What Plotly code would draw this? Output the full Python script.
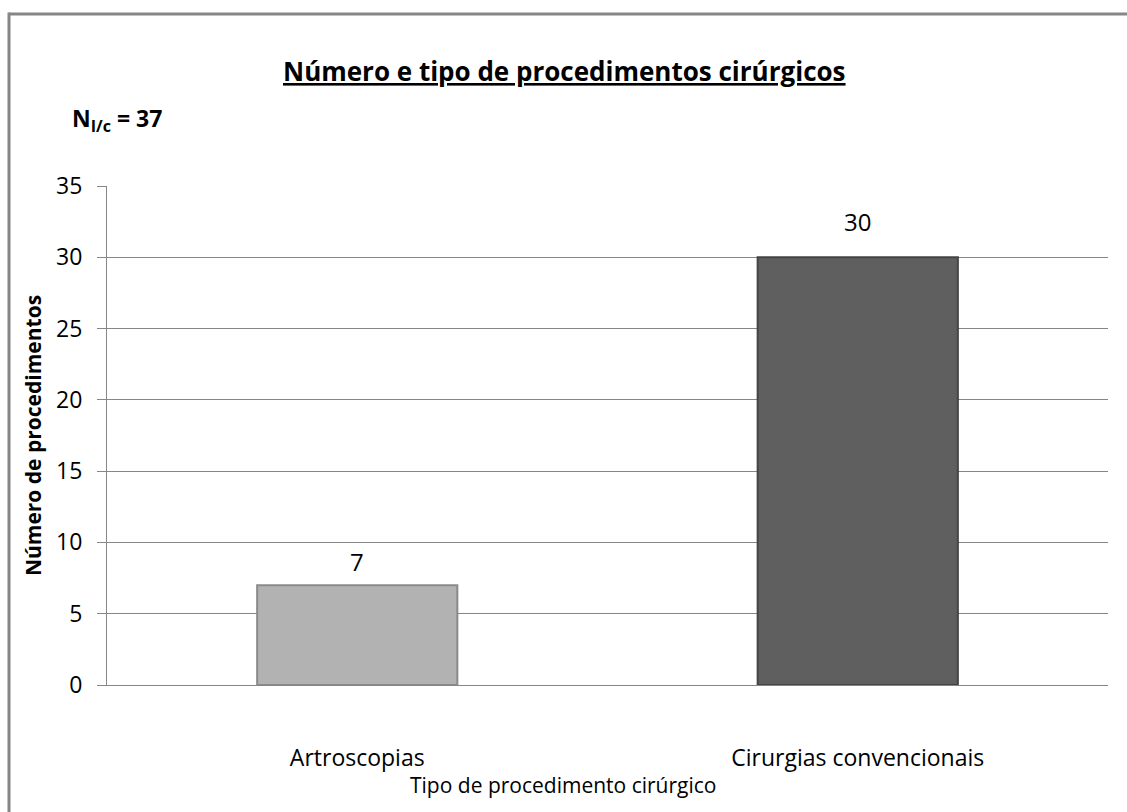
import plotly.graph_objects as go

categories = ["Artroscopias", "Cirurgias convencionais"]
values = [7, 30]
bar_colors = ["#b2b2b2", "#5f5f5f"]
bar_edges = ["#8a8a8a", "#444444"]
label_shifts = [24, 36]
y_ticks = [0, 5, 10, 15, 20, 25, 30, 35]

W, H = 1127, 812
L, R, T, B = 107, 19, 186, 127
pw, ph = W - L - R, H - T - B

def px_x(p):
    return (p - L) / pw

def px_y(p):
    return (H - B - p) / ph

font = "Open Sans"

fig = go.Figure()
fig.add_trace(go.Bar(
    x=categories, y=values, width=0.4,
    marker=dict(color=bar_colors, line=dict(color=bar_edges, width=2)),
    showlegend=False, hoverinfo="skip",
))

for c, v, s in zip(categories, values, label_shifts):
    fig.add_annotation(x=c, y=v, text=str(v), showarrow=False, yshift=s,
                       font=dict(family=font, size=24, color="#000"))

fig.add_annotation(xref="paper", yref="paper", x=px_x(564), y=px_y(51),
                   xanchor="center", yanchor="top",
                   text="<b><u>Número e tipo de procedimentos cirúrgicos</u></b>",
                   showarrow=False, font=dict(family=font, size=26, color="#000"))
fig.add_annotation(xref="paper", yref="paper", x=px_x(70), y=px_y(100),
                   xanchor="left", yanchor="top",
                   text="<b>N<sub>I/c</sub> = 37</b>",
                   showarrow=False, font=dict(family=font, size=23, color="#000"))
fig.add_annotation(xref="paper", yref="paper", x=px_x(563), y=px_y(785),
                   xanchor="center", yanchor="middle",
                   text="Tipo de procedimento cirúrgico",
                   showarrow=False, font=dict(family=font, size=21, color="#000"))

# outer chart frame (left and top edges visible)
fig.add_shape(type="line", xref="paper", yref="paper",
              x0=px_x(9), x1=px_x(W), y0=px_y(14), y1=px_y(14),
              line=dict(color="#868686", width=3), layer="below")
fig.add_shape(type="line", xref="paper", yref="paper",
              x0=px_x(9), x1=px_x(9), y0=px_y(12.5), y1=px_y(H),
              line=dict(color="#868686", width=3), layer="below")

fig.update_layout(
    width=W, height=H, autosize=False,
    margin=dict(l=L, r=R, t=T, b=B),
    paper_bgcolor="white", plot_bgcolor="white",
    xaxis=dict(
        showline=True, linecolor="#868686", linewidth=1,
        tickfont=dict(family=font, size=23, color="#000"),
        ticks="", showgrid=False, ticklabelstandoff=52,
    ),
    yaxis=dict(
        range=[0, 35], tickvals=y_ticks,
        showline=True, linecolor="#868686", linewidth=1,
        showgrid=True, gridcolor="#868686", gridwidth=1,
        ticks="outside", ticklen=9, tickcolor="#868686",
        ticklabelstandoff=10,
        tickfont=dict(family=font, size=23, color="#000"),
        zeroline=False,
        title=dict(text="<b>Número de procedimentos</b>", standoff=8,
                   font=dict(family=font, size=21, color="#000")),
    ),
)

fig.write_html("out.html", config={"displayModeBar": False},
               post_script="document.body.style.margin='0';document.body.style.overflow='hidden';document.documentElement.style.overflow='hidden';")
